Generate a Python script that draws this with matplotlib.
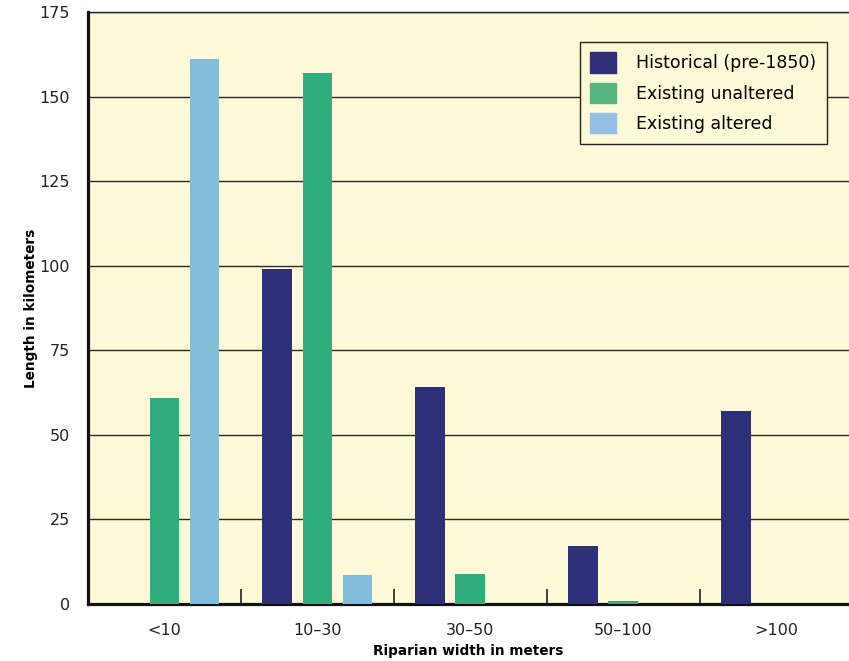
import matplotlib.pyplot as plt
import matplotlib.patches as mpatches
import numpy as np

categories = ['<10', '10–30', '30–50', '50–100', '>100']
historical = [0, 99, 64, 17, 57]
existing_unaltered = [61, 157, 9, 1, 0]
existing_altered = [161, 8.5, 0, 0, 0]

series_names = ['Historical (pre-1850)', 'Existing unaltered', 'Existing altered']
bar_colors = ['#2e3077', '#2eae7c', '#80bedb']
legend_colors = ['#2e3077', '#55b680', '#95c0e6']
bg = '#fef9d6'

fig = plt.figure(figsize=(8.49, 6.61), dpi=100)
ax = fig.add_axes([88 / 849, 1 - 604 / 661, (849 - 88) / 849, (604 - 12) / 661])
ax.set_facecolor(bg)

x = np.arange(len(categories))
width = 0.195
offsets = [-0.265, 0.0, 0.262]
for vals, off, c in zip([historical, existing_unaltered, existing_altered], offsets, bar_colors):
    ax.bar(x + off, vals, width, color=c, zorder=3, linewidth=0)

ax.set_xlim(-0.5, 4.475)
ax.set_ylim(0, 175)
ax.set_yticks(np.arange(0, 176, 25))
ax.yaxis.grid(True, color='#2a2a2a', linewidth=1.0, zorder=1)
ax.set_axisbelow(True)
ax.tick_params(axis='y', length=0, pad=13, labelsize=11.5, colors='#222222')

# group separators as major ticks, category labels on minor ticks
ax.set_xticks([0.5, 1.5, 2.5, 3.5])
ax.set_xticklabels([])
ax.set_xticks(x, minor=True)
ax.set_xticklabels(categories, minor=True)
ax.tick_params(axis='x', which='major', direction='in', length=11, width=1.2, color='#222222')
ax.tick_params(axis='x', which='minor', length=0, pad=14, labelsize=11.5, labelcolor='#222222')

for s in ['left', 'bottom']:
    ax.spines[s].set_linewidth(2.3)
    ax.spines[s].set_color('#111111')
ax.spines['top'].set_linewidth(1.0)
ax.spines['top'].set_color('#222222')
ax.spines['right'].set_visible(False)

ax.set_ylabel('Length in kilometers', fontsize=9.8, fontweight='bold')
ax.set_xlabel('Riparian width in meters', fontsize=9.8, fontweight='bold', labelpad=4)
ax.yaxis.set_label_coords(-0.066, 0.5)

handles = [mpatches.Patch(color=c, label=n) for c, n in zip(legend_colors, series_names)]
leg = ax.legend(handles=handles, loc='upper right', bbox_to_anchor=(827 / 849, 1 - 42 / 661),
                bbox_transform=fig.transFigure, borderaxespad=0, fontsize=12.5,
                frameon=True, fancybox=False, facecolor=bg, edgecolor='#222222',
                handlelength=1.45, handleheight=1.45, handletextpad=1.2,
                labelspacing=0.55, borderpad=0.6, framealpha=1)
leg.get_frame().set_linewidth(1.0)

fig.savefig('out.png', dpi=100)
